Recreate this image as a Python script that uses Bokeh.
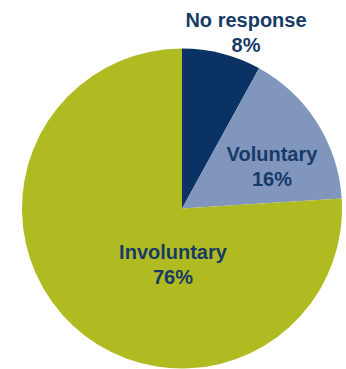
import numpy as np
from bokeh.plotting import figure
from bokeh.models import ColumnDataSource
from bokeh.core.properties import value
from bokeh.embed import file_html
from bokeh.resources import INLINE

categories = ["No response", "Voluntary", "Involuntary"]
shares = [8, 16, 76]
colors = ["#0b3265", "#8096bd", "#afbb21"]
pct_labels = ["8%", "16%", "76%"]

W, H = 346, 369
cx, cy, r = 181.5, 161.0, 160.0

vals = np.array(shares, dtype=float)
frac = vals / vals.sum()
ends = np.cumsum(frac) * 2 * np.pi
starts = ends - frac * 2 * np.pi
start_angle = np.pi / 2 - starts
end_angle = np.pi / 2 - ends

src = ColumnDataSource(dict(cat=categories, start=start_angle, end=end_angle, color=colors))

p = figure(width=W, height=H, x_range=(0, W), y_range=(0, H),
           output_backend="svg", toolbar_location=None, min_border=0,
           outline_line_color=None)
p.axis.visible = False
p.grid.visible = False
p.background_fill_color = "white"

p.wedge(x=cx, y=cy, radius=r, start_angle="start", end_angle="end",
        direction="clock", fill_color="color", line_color=None, source=src)

# label anchor positions (name baseline)
lx = [245.5, 271.5, 172.5]
ly = [350.0, 216.0, 118.0]
lab = ColumnDataSource(dict(x=lx, y=ly, name=categories,
                            y2=[v - 25 for v in ly], pct=pct_labels))
common = dict(text_font=value("Liberation Sans"), text_font_size="20px",
              text_font_style="bold", text_color="#173a66",
              text_align="center", text_baseline="alphabetic", source=lab)
p.text(x="x", y="y", text="name", **common)
p.text(x="x", y="y2", text="pct", **common)

open("out.html", "w").write(file_html(p, INLINE))
